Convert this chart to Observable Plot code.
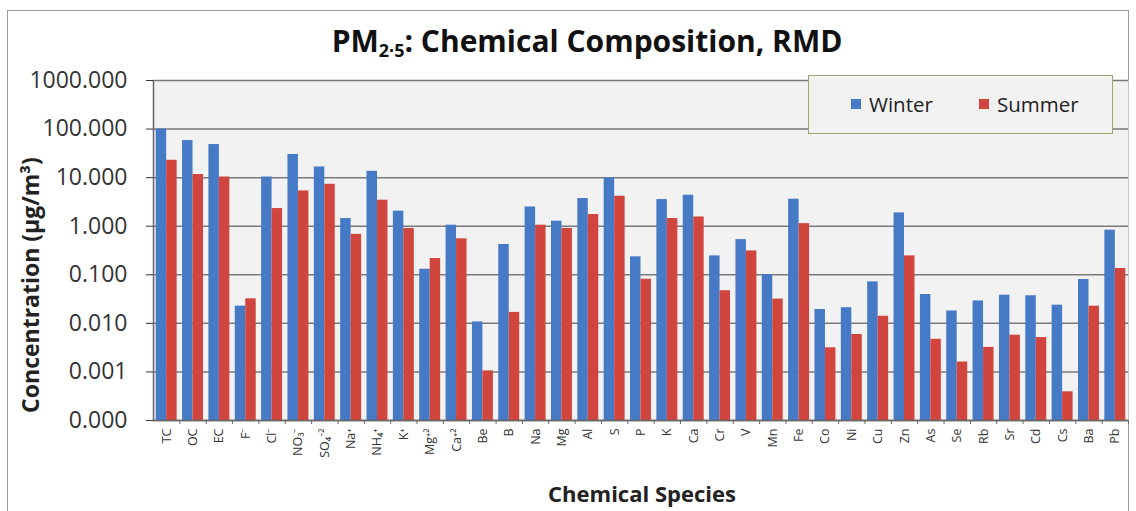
<!DOCTYPE html>
<html><head><meta charset="utf-8">
<script src="https://cdn.jsdelivr.net/npm/d3@7"></script>
<script src="https://cdn.jsdelivr.net/npm/@observablehq/plot@0.6"></script>
<style>
body{margin:0;background:#fff;}
#wrap{position:relative;width:1136px;height:511px;overflow:hidden;font-family:"Open Sans",sans-serif;color:#222;}
#border{position:absolute;left:7px;top:10px;width:1122px;height:520px;border:1.5px solid #9a9a9a;box-sizing:border-box;}
#chart{position:absolute;left:0;top:0;}
#title{position:absolute;left:19px;width:1136px;top:25px;text-align:center;font-weight:700;font-size:30px;line-height:32px;color:#111;}
#title sub{font-size:0.6em;vertical-align:-0.25em;line-height:0;}
#ytitle{position:absolute;left:30px;top:285px;transform:translate(-50%,-50%) rotate(-90deg);white-space:nowrap;font-weight:700;font-size:23px;color:#222;}
#xtitle{position:absolute;left:19px;width:1246px;top:478px;text-align:center;font-weight:700;font-size:22px;line-height:30px;color:#222;}
#legend{position:absolute;left:808px;top:75px;width:305px;height:59px;border:1.5px solid #a3a36e;box-sizing:border-box;background:#f2f2f2;}
.item{position:absolute;top:15px;display:flex;align-items:center;font-size:20.5px;line-height:26px;color:#222;}
.sw{width:10px;height:10px;margin-right:8px;}
</style></head><body>
<div id="wrap">
  <div id="border"></div>
  <div id="chart"></div>
  <div id="title">PM<sub>2·5</sub>: Chemical Composition, RMD</div>
  <div id="ytitle">Concentration (µg/m³)</div>
  <div id="xtitle">Chemical Species</div>
  <div id="legend"></div>
</div>
<script>
const categories = ["TC","OC","EC","F⁻","Cl⁻","NO₃⁻","SO₄⁻²","Na⁺","NH₄⁺","K⁺","Mg⁺²","Ca⁺²","Be","B","Na","Mg","Al","S","P","K","Ca","Cr","V","Mn","Fe","Co","Ni","Cu","Zn","As","Se","Rb","Sr","Cd","Cs","Ba","Pb"];
const seriesNames = ["Winter","Summer"];
const seriesColors = ["#4679c6","#d0463e"];
const winter = [100,58,48,0.0226,10.3,30,16.6,1.44,13.5,2.04,0.13,1.05,0.0107,0.42,2.49,1.27,3.72,9.86,0.234,3.54,4.34,0.245,0.53,0.101,3.6,0.0193,0.021,0.0715,1.88,0.0393,0.018,0.029,0.038,0.037,0.0237,0.08,0.83];
const summer = [22.8,11.6,10.3,0.032,2.31,5.33,7.3,0.68,3.43,0.9,0.216,0.55,0.00105,0.0168,1.05,0.9,1.74,4.14,0.081,1.44,1.55,0.047,0.31,0.0316,1.13,0.00314,0.0059,0.014,0.245,0.0047,0.0016,0.0032,0.0057,0.0051,0.00039,0.0226,0.135];
const yTicks = [0.0001,0.001,0.01,0.1,1,10,100,1000];

const keys = categories.flatMap(c => [c + "|W", c + "|S"]);
const winterRows = categories.map((c,i) => ({key: c + "|W", value: winter[i]}));
const summerRows = categories.map((c,i) => ({key: c + "|S", value: summer[i]}));
const W = 1136, H = 511, mL = 153, mR = 8, mT = 80, mB = 91;
const step = (W - mL - mR) / keys.length;

const chart = Plot.plot({
  width: W, height: H,
  marginLeft: mL, marginRight: mR, marginTop: mT, marginBottom: mB,
  style: {background: "transparent", fontFamily: "Open Sans, sans-serif", overflow: "visible"},
  x: {domain: keys, padding: 0, round: false, axis: null},
  y: {type: "log", domain: [yTicks[0], yTicks[yTicks.length-1]], axis: null},
  marks: [
    Plot.frame({fill: "#f2f2f2", stroke: null}),
    Plot.ruleY(yTicks, {stroke: "#7a7a7a", strokeWidth: 1.5}),
    Plot.barY(winterRows, {x: "key", y1: yTicks[0], y2: "value", fill: seriesColors[0], insetLeft: 2.7, insetRight: 0}),
    Plot.barY(summerRows, {x: "key", y1: yTicks[0], y2: "value", fill: seriesColors[1], insetLeft: 0, insetRight: 2.7}),
    Plot.ruleX([keys[0]], {dx: -step/2, stroke: "#666", strokeWidth: 1.5}),
    Plot.ruleY([yTicks[0]], {stroke: "#666", strokeWidth: 1.5}),
    Plot.axisY({ticks: yTicks, tickFormat: d3.format(".3f"), tickSize: 7, tickPadding: 19, fontSize: 23, color: "#333", label: null}),
    Plot.axisX({ticks: winterRows.map(d => d.key), tickFormat: k => k.split("|")[0], tickRotate: -90, tickSize: 0, tickPadding: 8, dx: step/2, fontSize: 12.5, color: "#333", label: null}),
    Plot.axisX({ticks: summerRows.map(d => d.key), tickFormat: () => "", tickSize: 4, dx: step/2, color: "#666", label: null})
  ]
});
document.getElementById("chart").appendChild(chart);

const legend = document.getElementById("legend");
const lx = [42, 170];
seriesNames.forEach((n,i) => {
  const it = document.createElement("div");
  it.className = "item";
  it.style.left = lx[i] + "px";
  const sw = document.createElement("span");
  sw.className = "sw";
  sw.style.background = seriesColors[i];
  it.appendChild(sw);
  it.appendChild(document.createTextNode(n));
  legend.appendChild(it);
});
</script>
</body></html>
